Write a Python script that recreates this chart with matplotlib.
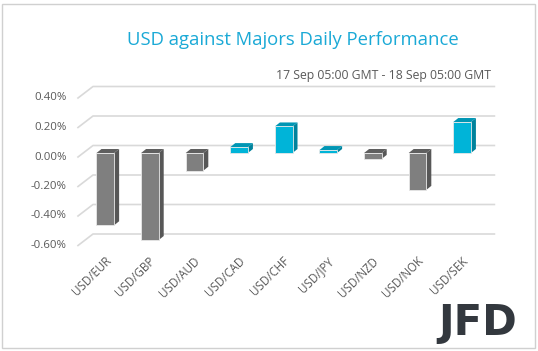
import matplotlib.pyplot as plt
from matplotlib.patches import Polygon, Rectangle

pairs = ["USD/EUR", "USD/GBP", "USD/AUD", "USD/CAD", "USD/CHF",
         "USD/JPY", "USD/NZD", "USD/NOK", "USD/SEK"]
change = [-0.49, -0.59, -0.12, 0.04, 0.18, 0.02, -0.04, -0.25, 0.21]
yticks = [-0.6, -0.4, -0.2, 0.0, 0.2, 0.4]

W, H = 538, 351
fig = plt.figure(figsize=(W / 100, H / 100), dpi=100)
plt.rcParams['font.family'] = ['Open Sans', 'DejaVu Sans']

# front plane of the 3d box, in pixels of the picture
left, right, top, bottom = 78, 479.4, 98, 245.5
ax = fig.add_axes([left / W, 1 - bottom / H, (right - left) / W, (bottom - top) / H])
ax.set_xlim(-0.5, len(pairs) - 0.5)
ax.set_ylim(-0.6, 0.4)
ax.axis("off")

# pixel -> data conversions
ux = (right - left) / len(pairs)
uy = (bottom - top) / 1.0
def dx(px):
    return px / ux
def dy(px):
    return -px / uy  # picture y grows downward

# gridlines on the back wall with the slanted floor part
for t in yticks:
    ax.plot([-0.5, -0.5 + dx(15), len(pairs) - 0.5 + dx(15)],
            [t, t + dy(-11.5), t + dy(-11.5)],
            color="#d9d9d9", lw=1.2, clip_on=False, zorder=1)
    ax.text(-0.5 - dx(11), t, "{:.2f}%".format(t).replace("-0.00", "0.00"),
            ha="right", va="center", fontsize=8.2, color="#595959")

# bars
bw = 0.395
ox, oy = dx(5), dy(-4)     # bar front face offset from front plane
depx, depy = dx(5), dy(-4)  # bar depth
for i, v in enumerate(change):
    if v >= 0:
        front, side, topc = "#00b4d8", "#00829c", "#0096b4"
    else:
        front, side, topc = "#7f7f7f", "#575757", "#5f5f5f"
    x0 = i - bw / 2 + ox
    x1 = i + bw / 2 + ox
    lo, hi = min(0, v) + oy, max(0, v) + oy
    ax.add_patch(Polygon([[x1, lo], [x1 + depx, lo + depy], [x1 + depx, hi + depy], [x1, hi]],
                         closed=True, facecolor=side, edgecolor="none", clip_on=False, zorder=2))
    ax.add_patch(Polygon([[x0, hi], [x0 + depx, hi + depy], [x1 + depx, hi + depy], [x1, hi]],
                         closed=True, facecolor=topc, edgecolor="none", clip_on=False, zorder=2))
    ax.add_patch(Rectangle((x0, lo), bw, hi - lo, facecolor=front, edgecolor="#e8e8e8",
                           lw=0.6, clip_on=False, zorder=3))

# category labels
for i, name in enumerate(pairs):
    ax.text(i + dx(4), -0.6 + dy(9), name, rotation=45, ha="right", va="top",
            rotation_mode="anchor", fontsize=8.3, color="#595959")

fig.text(293 / W, 1 - 40 / H, "USD against Majors Daily Performance",
         ha="center", va="center", fontsize=13.3, color="#1aa9d6")
fig.text(491 / W, 1 - 75 / H, "17 Sep 05:00 GMT - 18 Sep 05:00 GMT",
         ha="right", va="center", fontsize=8.8, color="#595959")
fig.text(517 / W, 1 - 323 / H, "JFD", ha="right", va="center", fontsize=30,
         fontweight="bold", color="#33383e", family="DejaVu Sans")

# outer frame
fig.add_artist(Rectangle((2 / W, 3 / H), 533 / W, 344 / H, transform=fig.transFigure,
                         fill=False, edgecolor="#d0d0d0", lw=1))

fig.savefig("out.png", dpi=100)
